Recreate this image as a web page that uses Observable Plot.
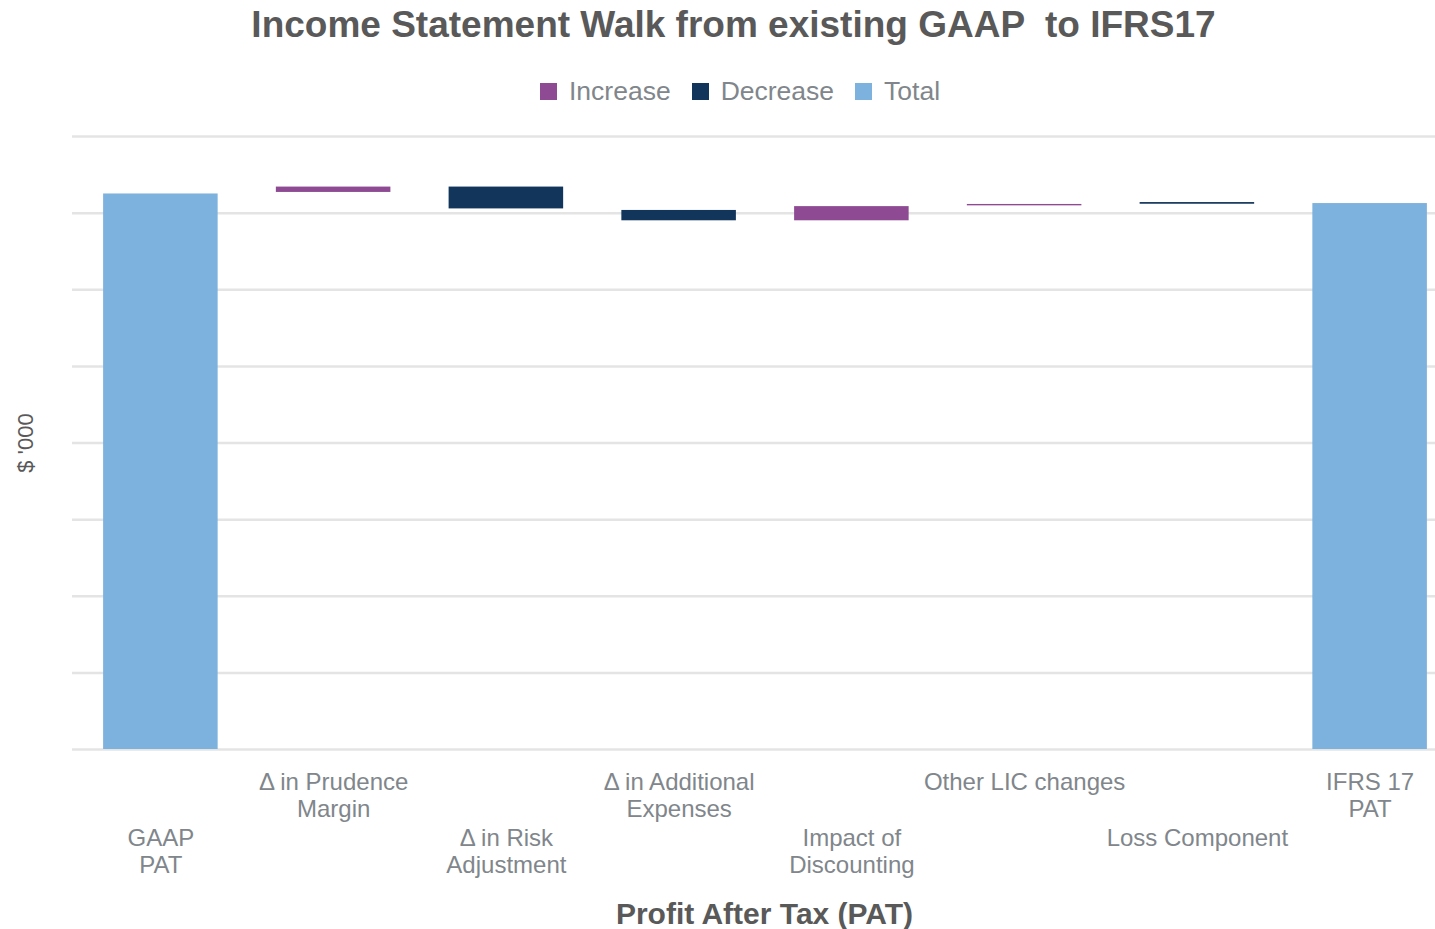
<!DOCTYPE html>
<html>
<head>
<meta charset="utf-8">
<script src="https://cdn.jsdelivr.net/npm/d3@7"></script>
<script src="https://cdn.jsdelivr.net/npm/@observablehq/plot@0.6"></script>
<style>
  html, body { margin: 0; padding: 0; background: #fff; overflow: hidden; }
  body { width: 1435px; height: 929px; position: relative; font-family: "Liberation Sans", Arial, sans-serif; }
  #title { position: absolute; left: 0; width: 1467px; top: 6px; text-align: center; font-size: 37px; line-height: 37px; font-weight: bold; color: #595959; white-space: pre; }
  #legend { position: absolute; left: 540px; top: 78px; display: flex; align-items: center; font-size: 26.5px; line-height: 26px; color: #80868b; }
  #legend .sw { width: 17px; height: 17px; display: inline-block; margin-right: 12px; }
  #legend .item { display: flex; align-items: center; margin-right: 21px; }
  #chart { position: absolute; left: 0; top: 120px; }
</style>
</head>
<body>
<div id="title">Income Statement Walk from existing GAAP  to IFRS17</div>
<div id="legend"></div>
<div id="chart"></div>
<script>
// ---- data ----
const categories = ["GAAP PAT", "Δ in Prudence Margin", "Δ in Risk Adjustment", "Δ in Additional Expenses", "Impact of Discounting", "Other LIC changes", "Loss Component", "IFRS 17 PAT"];
const tickLabels = ["GAAP\nPAT", "Δ in Prudence\nMargin", "Δ in Risk\nAdjustment", "Δ in Additional\nExpenses", "Impact of\nDiscounting", "Other LIC changes", "Loss Component", "IFRS 17\nPAT"];
const barStart = [0, 727, 734, 703.5, 690, 709.5, 711.6, 0];
const barEnd   = [725, 734, 705.5, 690, 708.5, 711.3, 713.8, 712.5];
const barType  = ["Total", "Increase", "Decrease", "Decrease", "Increase", "Increase", "Decrease", "Total"];
const seriesNames = ["Increase", "Decrease", "Total"];
const seriesColors = ["#8e4a92", "#12355b", "#7eb2de"];
const yTicks = [0, 100, 200, 300, 400, 500, 600, 700, 800];

const data = categories.map((c, i) => ({cat: c, label: tickLabels[i], start: barStart[i], end: barEnd[i], type: barType[i], row: i % 2 === 0 ? "lower" : "upper"}));

// legend
const legend = document.getElementById("legend");
seriesNames.forEach((n, i) => {
  const it = document.createElement("span");
  it.className = "item";
  it.innerHTML = `<span class="sw" style="background:${seriesColors[i]}"></span><span>${n}</span>`;
  legend.appendChild(it);
});

const chart = Plot.plot({
  width: 1435,
  height: 809,
  marginTop: 16,
  marginBottom: 180,
  marginLeft: 72,
  marginRight: -21,
  style: {fontFamily: "Liberation Sans, Arial, sans-serif", background: "transparent", overflow: "visible"},
  x: {domain: categories, range: [74, 1456], paddingInner: 0.337, paddingOuter: 0.1685, round: false, axis: null},
  y: {domain: [0, 800], axis: null},
  color: {domain: seriesNames, range: seriesColors},
  marks: [
    Plot.ruleY(yTicks, {stroke: "#e4e4e4", strokeWidth: 2.5}),
    Plot.barY(data, {x: "cat", y1: "start", y2: "end", fill: "type"}),
    Plot.text(data.filter(d => d.row === "upper"), {x: "cat", text: "label", frameAnchor: "bottom", dy: 21, lineAnchor: "top", fontSize: 24, lineHeight: 1.125, fill: "#80868b"}),
    Plot.text(data.filter(d => d.row === "lower"), {x: "cat", text: "label", frameAnchor: "bottom", dy: 77, lineAnchor: "top", fontSize: 24, lineHeight: 1.125, fill: "#80868b"}),
    Plot.text(["Profit After Tax (PAT)"], {text: d => d, frameAnchor: "bottom", dy: 153, lineAnchor: "top", fontSize: 30, fontWeight: "bold", fill: "#595959"}),
    Plot.text(["$ '000"], {text: d => d, frameAnchor: "left", textAnchor: "middle", dx: -47, rotate: -90, fontSize: 22, fill: "#595959"})
  ]
});
document.getElementById("chart").appendChild(chart);
</script>
</body>
</html>
